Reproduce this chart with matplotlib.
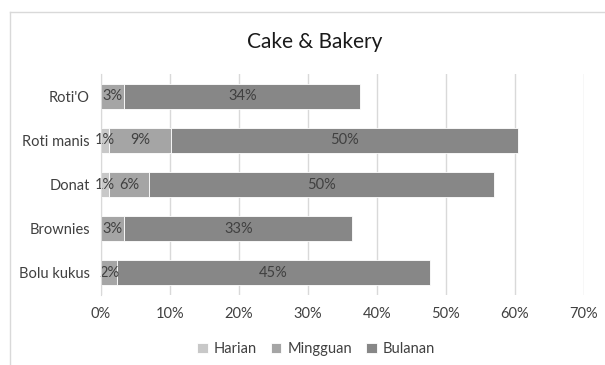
import matplotlib
matplotlib.use("Agg")
import matplotlib.pyplot as plt
from matplotlib.lines import Line2D
import numpy as np

plt.rcParams['font.family'] = ['Lato', 'DejaVu Sans']

categories = ["Roti'O", "Roti manis", "Donat", "Brownies", "Bolu kukus"]
harian = [0.0, 1.2, 1.2, 0.0, 0.0]
mingguan = [3.4, 9.0, 5.7, 3.4, 2.3]
bulanan = [34.2, 50.3, 50.1, 33.0, 45.4]
series_names = ["Harian", "Mingguan", "Bulanan"]
colors = ["#c8c8c8", "#a5a5a5", "#878787"]
xticks = [0, 10, 20, 30, 40, 50, 60, 70]

W, H = 605, 365
fig = plt.figure(figsize=(W / 100, H / 100), dpi=100)
ax = fig.add_axes([101 / W, 1 - 295 / H, (584 - 101) / W, (295 - 74) / H])

y = np.arange(len(categories))
left = np.zeros(len(categories))
for name, vals, c in zip(series_names, [harian, mingguan, bulanan], colors):
    vals = np.array(vals)
    ax.barh(y, vals, left=left, height=0.57, color=c, edgecolor="white",
            linewidth=0.6, label=name, zorder=3)
    for yi, l, v in zip(y, left, vals):
        if v > 0:
            ax.text(l + v / 2, yi, f"{round(v):.0f}%", ha="center", va="center",
                    fontsize=10.5, color="#404040", zorder=4)
    left = left + vals

ax.set_xlim(0, 70)
ax.set_ylim(len(categories) - 0.5, -0.5)
ax.set_xticks(xticks)
ax.set_xticklabels([f"{t}%" for t in xticks])
ax.set_yticks(y)
ax.set_yticklabels(categories)
ax.tick_params(axis="both", length=0, labelsize=10.5, colors="#404040")
ax.tick_params(axis="x", pad=9)
ax.tick_params(axis="y", pad=8)
ax.grid(axis="x", color="#d9d9d9", linewidth=1, zorder=0)
for s in ["top", "right", "bottom"]:
    ax.spines[s].set_visible(False)
ax.spines["left"].set_color("#d9d9d9")
ax.spines["left"].set_zorder(5)

fig.text(315 / W, 1 - 42 / H, "Cake & Bakery", ha="center",
         va="center", fontsize=15, color="#1a1a1a")

handles, labels = ax.get_legend_handles_labels()
fig.legend(handles, labels, loc="center", bbox_to_anchor=(316 / W, 1 - 349 / H),
           ncol=3, frameon=False, fontsize=10.5, handlelength=0.7, handleheight=0.7,
           handletextpad=0.4, columnspacing=1.0, labelcolor="#404040")

fig.add_artist(Line2D([10 / W, 10 / W], [0, 1 - 12 / H], color="#d9d9d9", linewidth=1))
fig.add_artist(Line2D([10 / W, 1], [1 - 12 / H, 1 - 12 / H], color="#d9d9d9", linewidth=1))

fig.savefig("out.png", dpi=100)
